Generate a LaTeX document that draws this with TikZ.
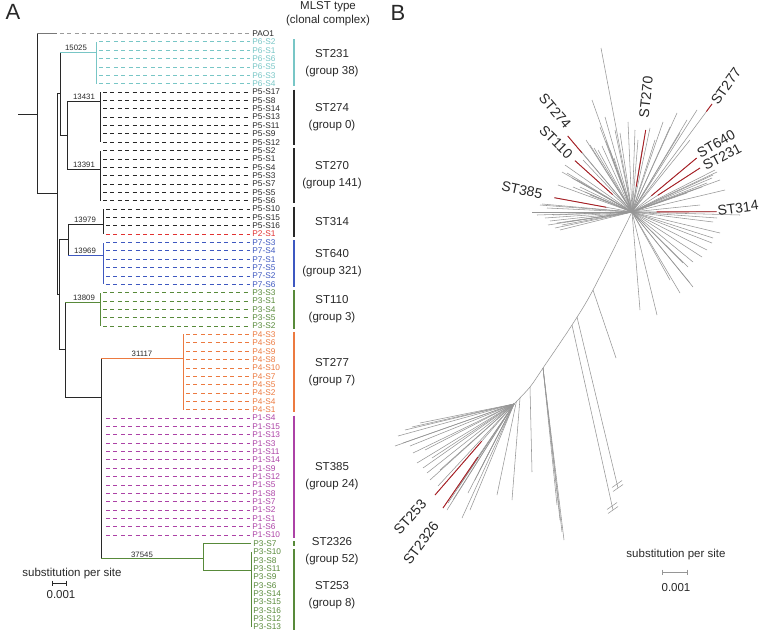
\documentclass[tikz,border=0pt]{standalone}
\usepackage{fontspec}
\setmainfont{Liberation Sans}
\usetikzlibrary{calc}
\definecolor{treeink}{RGB}{40,40,40}
\definecolor{outgray}{RGB}{120,120,120}
\definecolor{dashgray}{RGB}{155,155,155}
\definecolor{st231c}{RGB}{120,198,198}
\definecolor{st640c}{RGB}{62,88,192}
\definecolor{st110c}{RGB}{88,138,58}
\definecolor{st277c}{RGB}{236,122,64}
\definecolor{st385c}{RGB}{172,66,166}
\definecolor{p2red}{RGB}{225,50,50}
\definecolor{twiggray}{RGB}{150,150,150}
\definecolor{hitred}{RGB}{172,30,36}
\newcommand{\rowy}[1]{33.5+8.36*#1}
\newcommand{\branch}[3]{\draw (#1) -- (#1 |- #2); \draw[#3] (#1 |- #2) -- (#2);}

\begin{document}
\begin{tikzpicture}[x=1pt, y=-1pt, line width=0.8pt, color=treeink,
    leaf/.style={anchor=west, inner xsep=2pt, inner ysep=0pt, font=\fontsize{8.3}{8.3}\selectfont},
    tipline/.style={dash pattern=on 4pt off 3.4pt, shorten <=3pt},
    blabel/.style={anchor=south, inner sep=0.8pt, font=\fontsize{7.8}{7.8}\selectfont},
    bar/.style={line width=1.6pt},
    stlabel/.style={align=center, inner sep=0pt, font=\fontsize{11.5}{17}\selectfont},
    twig/.style={twiggray, line width=0.55pt},
    hit/.style={hitred, line width=0.9pt},
    bst/.style={inner sep=0pt, font=\fontsize{14}{14}\selectfont},
    panel/.style={inner sep=0pt, font=\fontsize{22}{22}\selectfont}]
\useasboundingbox (0,0) rectangle (760,634);

% ---------- A: rooted tree ----------
\node[panel] (panA) at (13,12) {A};
\node[stlabel, font=\fontsize{11.5}{14}\selectfont] (mlst) at (328,14) {MLST type\\(clonal complex)};

\coordinate (stub) at (18,114);
\coordinate (root) at (37,114);
\coordinate (pao) at (57,{\rowy{0}});
\coordinate (A) at (57,193.75);
\coordinate (D) at (60,93.5);
\coordinate (E) at (67,135);
\coordinate (F) at (59,294);
\coordinate (G) at (68,239.5);
\coordinate (H) at (65,349.5);
\coordinate (I) at (101,397);
\coordinate (c6) at (96,52);
\coordinate (c5a) at (100,101);
\coordinate (c5b) at (100,169);
\coordinate (c5c) at (103,224);
\coordinate (c7) at (103,255);
\coordinate (c3a) at (100,302);
\coordinate (c4) at (183,358);
\coordinate (c3b) at (203,558);
\coordinate (J) at (251,570);

\draw (stub) -- (root);
\branch{root}{pao}{outgray, line width=1.4pt}
\branch{root}{A}{}
\branch{A}{D}{}
\branch{A}{F}{}
\branch{D}{c6}{st231c}
\branch{D}{E}{}
\branch{E}{c5a}{}
\branch{E}{c5b}{}
\branch{F}{G}{}
\branch{F}{H}{}
\branch{G}{c5c}{}
\branch{G}{c7}{st640c}
\branch{H}{c3a}{st110c}
\branch{H}{I}{}
\branch{I}{c4}{st277c}
\branch{I}{c3b}{st110c}

% branch support numbers
\node[blabel] (n15025) at (76,52) {15025};
\node[blabel] (n13431) at (84,101) {13431};
\node[blabel] (n13391) at (84,169) {13391};
\node[blabel] (n13979) at (85,224) {13979};
\node[blabel] (n13969) at (85,255) {13969};
\node[blabel] (n13809) at (84,302) {13809};
\node[blabel] (n31117) at (142,358) {31117};
\node[blabel, inner sep=0pt] (n37545) at (142,558) {37545};

% leaves
\node[leaf] (PAO1) at (250,{\rowy{0}}) {PAO1};
\draw[tipline, dashgray] (pao) -- (PAO1.west);

\foreach \n [count=\k from 1] in {P6-S2,P6-S1,P6-S6,P6-S5,P6-S3,P6-S4}{
  \node[leaf, text=st231c] (\n) at (250,{\rowy{\k}}) {\n};
  \draw[st231c] (c6) -- (c6 |- \n.west);
  \draw[tipline, st231c] (c6 |- \n.west) -- (\n.west);
}
\foreach \n [count=\k from 7] in {P5-S17,P5-S8,P5-S14,P5-S13,P5-S11,P5-S9,P5-S12}{
  \node[leaf] (\n) at (250,{\rowy{\k}}) {\n};
  \draw (c5a) -- (c5a |- \n.west);
  \draw[tipline] (c5a |- \n.west) -- (\n.west);
}
\foreach \n [count=\k from 14] in {P5-S2,P5-S1,P5-S4,P5-S3,P5-S7,P5-S5,P5-S6}{
  \node[leaf] (\n) at (250,{\rowy{\k}}) {\n};
  \draw (c5b) -- (c5b |- \n.west);
  \draw[tipline] (c5b |- \n.west) -- (\n.west);
}
\foreach \n/\c [count=\k from 21] in {P5-S10/treeink,P5-S15/treeink,P5-S16/treeink,P2-S1/p2red}{
  \node[leaf, text=\c] (\n) at (250,{\rowy{\k}}) {\n};
  \draw (c5c) -- (c5c |- \n.west);
  \draw[tipline, \c] (c5c |- \n.west) -- (\n.west);
}
\foreach \n [count=\k from 25] in {P7-S3,P7-S4,P7-S1,P7-S5,P7-S2,P7-S6}{
  \node[leaf, text=st640c] (\n) at (250,{\rowy{\k}}) {\n};
  \draw[st640c] (c7) -- (c7 |- \n.west);
  \draw[tipline, st640c] (c7 |- \n.west) -- (\n.west);
}
\foreach \n [count=\k from 31] in {P3-S3,P3-S1,P3-S4,P3-S5,P3-S2}{
  \node[leaf, text=st110c] (\n) at (250,{\rowy{\k}}) {\n};
  \draw[st110c] (c3a) -- (c3a |- \n.west);
  \draw[tipline, st110c] (c3a |- \n.west) -- (\n.west);
}
\foreach \n [count=\k from 36] in {P4-S3,P4-S6,P4-S9,P4-S8,P4-S10,P4-S7,P4-S5,P4-S2,P4-S4,P4-S1}{
  \node[leaf, text=st277c] (\n) at (250,{\rowy{\k}}) {\n};
  \draw[st277c] (c4) -- (c4 |- \n.west);
  \draw[tipline, st277c] (c4 |- \n.west) -- (\n.west);
}
\foreach \n [count=\k from 46] in {P1-S4,P1-S15,P1-S13,P1-S3,P1-S11,P1-S14,P1-S9,P1-S12,P1-S5,P1-S8,P1-S7,P1-S2,P1-S1,P1-S6,P1-S10}{
  \node[leaf, text=st385c] (\n) at (250,{\rowy{\k}}) {\n};
  \draw[tipline, st385c, shorten <=5pt] (I |- \n.west) -- (\n.west);
}
\node[leaf, text=st110c] (P3-S7) at (251,{\rowy{61}}) {P3-S7};
\draw[st110c] (c3b) |- (P3-S7.west);
\draw[st110c] (c3b) |- (J);
\foreach \n [count=\k from 62] in {P3-S10,P3-S8,P3-S11,P3-S9,P3-S6,P3-S14,P3-S15,P3-S16,P3-S12,P3-S13}{
  \node[leaf, text=st110c] (\n) at (251,{\rowy{\k}}) {\n};
  \draw[st110c] (J) -- (J |- \n.west);
}

% clade bars
\foreach \a/\b/\c/\dy/\t in {1/6/st231c/0/{ST231\\(group 38)}, 7/13/treeink/0/{ST274\\(group 0)},
    14/20/treeink/0/{ST270\\(group 141)}, 21/24/treeink/0/{ST314}, 25/30/st640c/0/{ST640\\(group 321)},
    31/35/st110c/0/{ST110\\(group 3)}, 36/45/st277c/0/{ST277\\(group 7)}, 46/60/st385c/0/{ST385\\(group 24)},
    61/61/st110c/7.5/{ST2326\\(group 52)}, 62/71/st110c/5.5/{ST253\\(group 8)}}{
  \draw[bar, \c] (294,{\rowy{\a}-2.5}) -- (294,{\rowy{\b}+2.5});
  \node[stlabel] (clade\a) at (332,{(\rowy{\a}+\rowy{\b})/2+\dy}) {\t};
}

% scale bar A
\node[stlabel] (subA) at (72,574) {substitution per site};
\draw (52,580.5) -- (52,585.5) (52,583) -- (66,583) (66,580.5) -- (66,585.5);
\node[stlabel] (valA) at (61,595) {0.001};

% ---------- B: unrooted tree ----------
\node[panel] (panB) at (398,13) {B};

\coordinate (hubU) at (632,212);
\coordinate (hubL) at (514,404);
\coordinate (k1) at (593,290);
\coordinate (k2b) at (577,317);
\coordinate (k2) at (572,325);
\coordinate (k3) at (543,368);
\coordinate (k4) at (530,387);
\coordinate (k5) at (520,398);
\coordinate (k5b) at (516.5,401);
\coordinate (cut1) at (618,488);
\coordinate (cut2) at (613,510);

\draw[twig] plot[smooth, tension=0.5] coordinates {(hubU) (k1) (k2) (k3) (k4) (hubL)};
\draw[twig] (k1) -- (616,358);
\draw[twig] (k2b) -- (cut1);
\draw[twig] (k2) -- (cut2);
\foreach \c in {cut1,cut2}{
  \draw[twig] ([shift={(-5,3.5)}]\c) -- ([shift={(5,-3.5)}]\c);
  \draw[twig] ([shift={(-6,-0.5)}]\c) -- ([shift={(4,-7.5)}]\c);
}
\foreach \p in {(557,505),(560,520),(562,532),(564,540)}
  \draw[twig] (k3) -- \p;
\draw[twig] (k4) -- (532,472);
\draw[twig] (k5) -- (512,500);
\draw[twig] (k5b) -- (497,495);

\foreach \p in {(601,48),(592,100),(600,127),(605,117),(615,130),(620,133),(628,122),(635,130),(638,140),(642,150),
    (586,140),(590,145),(594,148),(598,150),(602,146),(606,141),(610,150),(614,158),(580,150),(583,160),
    (562,172),(565,165),(567,173),(572,178),(577,180),(580,187),(558,185),(573,187),(585,192),(590,195),
    (532,212),(540,205),(542,204),(547,208),(553,215),(557,223),(562,225),(567,222),(537,215),(545,218),
    (550,221),(555,228),(560,230),(548,225),
    (663,122),(677,113),(687,120),(697,110),(670,127),(680,133),(690,140),(650,128),(655,140),
    (715,170),(717,172),(713,175),(712,178),(707,183),(702,187),(693,190),(687,193),(720,180),(725,190),
    (740,215),(717,218),(713,222),(700,205),
    (720,233),(713,238),(712,243),(707,250),(702,257),(693,262),(688,267),(683,263),(693,287),(680,293),
    (690,283),(640,310),(657,315),(670,280)}
  \draw[twig] (hubU) -- \p;
\foreach \p in {(398,436),(405,430),(412,427),(420,423),(395,446),(403,443),(410,446),(413,453),(417,463),
    (423,468),(427,473),(430,480),(440,470),(432,458),(425,450),(447,510),(448,503),(453,500),(462,518),
    (468,493),(458,488),(475,480),(480,470),(470,510),(438,486)}
  \draw[twig] (hubL) -- \p;

% labelled branches
\coordinate (t274) at (567.7,136);
\coordinate (t110) at (575,160.7);
\coordinate (t385) at (554.3,197.7);
\coordinate (t270) at (645.7,130);
\coordinate (t277) at (712,104);
\coordinate (t640) at (696.7,158);
\coordinate (t231) at (700,168);
\coordinate (t314) at (716.7,211.7);
\coordinate (t253) at (435,495);
\coordinate (t2326) at (443,508);
\foreach \t/\f in {t274/0.78,t110/0.34,t385/0.33,t270/0.31,t277/0.93,t640/0.30,t231/0.38,t314/0.29}{
  \draw[twig] (hubU) -- (\t);
  \draw[hit] ($(hubU)!\f!(\t)$) -- (\t);
}
\foreach \t/\f in {t253/0.41,t2326/0.51}{
  \draw[twig] (hubL) -- (\t);
  \draw[hit] ($(hubL)!\f!(\t)$) -- (\t);
}

\node[bst, rotate=-50] (L274) at (555,111) {ST274};
\node[bst, rotate=-45] (L110) at (556,142) {ST110};
\node[bst, rotate=-12] (L385) at (522,190) {ST385};
\node[bst, rotate=84] (L270) at (646,97) {ST270};
\node[bst, rotate=55] (L277) at (726,86) {ST277};
\node[bst, rotate=30] (L640) at (716,144) {ST640};
\node[bst, rotate=28] (L231) at (722,157) {ST231};
\node[bst, rotate=8] (L314) at (738,208) {ST314};
\node[bst, rotate=48] (L253) at (410,517) {ST253};
\node[bst, rotate=53] (L2326) at (421,543) {ST2326};

% scale bar B
\node[stlabel] (subB) at (676,555) {substitution per site};
\draw[twiggray] (662,569.5) -- (662,574.5) (662,572) -- (687,572) (687,569.5) -- (687,574.5);
\node[stlabel] (valB) at (676,588) {0.001};
\end{tikzpicture}
\end{document}
